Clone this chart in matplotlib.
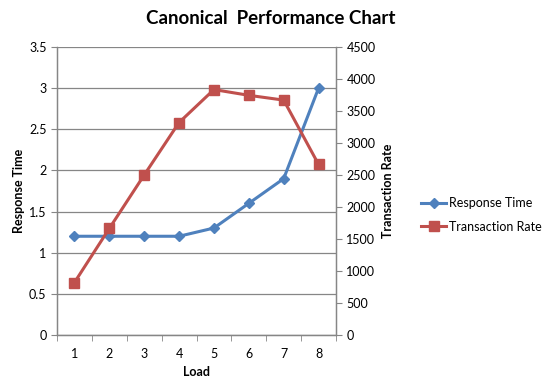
import matplotlib
matplotlib.use('Agg')
import matplotlib.pyplot as plt

plt.rcParams['font.family'] = ['Lato', 'DejaVu Sans']

load = [1, 2, 3, 4, 5, 6, 7, 8]
response_time = [1.2, 1.2, 1.2, 1.2, 1.3, 1.6, 1.9, 3.0]
transaction_rate = [820, 1665, 2500, 3320, 3835, 3745, 3670, 2665]

blue = '#4F81BD'
red = '#C0504D'
grey = '#868686'

fig = plt.figure(figsize=(5.42, 3.83), dpi=100)
ax = fig.add_axes([57/542, 48/383, 279/542, 288/383])
ax2 = ax.twinx()

ax.plot(load, response_time, color=blue, lw=2.2, marker='D', ms=5.5,
        label='Response Time', zorder=3)
ax2.plot(load, transaction_rate, color=red, lw=2.2, marker='s', ms=7,
         label='Transaction Rate', zorder=3)

ax.set_xlim(0.5, 8.5)
ax.set_ylim(0, 3.5)
ax2.set_ylim(0, 4500)
ax.set_yticks([i * 0.5 for i in range(8)])
ax.set_yticklabels(['0', '0.5', '1', '1.5', '2', '2.5', '3', '3.5'])
ax2.set_yticks(range(0, 4501, 500))
ax.set_xticks(load)
ax.set_xticks([x + 0.5 for x in range(0, 9)], minor=True)
ax.tick_params(axis='x', which='major', length=0, pad=9, labelsize=9)
ax.tick_params(axis='x', which='minor', length=4, color=grey, direction='out')
ax.tick_params(axis='y', length=4, color=grey, labelsize=9)
ax2.tick_params(axis='y', length=4, color=grey, labelsize=9)

ax.grid(axis='y', color=grey, lw=0.9)
ax.set_axisbelow(True)
for a in (ax, ax2):
    a.spines['top'].set_visible(False)
    for s in ('left', 'right', 'bottom'):
        a.spines[s].set_color(grey)
        a.spines[s].set_linewidth(0.9)

ax.set_xlabel('Load', fontsize=9, fontweight='bold', labelpad=5)
ax.set_ylabel('Response Time', fontsize=9, fontweight='bold', labelpad=3)
ax2.set_ylabel('Transaction Rate', fontsize=9, fontweight='bold', labelpad=5)
fig.text(271/542, 1 - 18/383, 'Canonical  Performance Chart', ha='center', va='center',
         fontsize=13.5, fontweight='bold')

h1, l1 = ax.get_legend_handles_labels()
h2, l2 = ax2.get_legend_handles_labels()
fig.legend(h1 + h2, l1 + l2, loc='center left', bbox_to_anchor=(410/542, 1 - 215/383),
           frameon=False, fontsize=9, handlelength=2.0, handletextpad=0.2, labelspacing=0.9)

fig.savefig('out.png', dpi=100)
